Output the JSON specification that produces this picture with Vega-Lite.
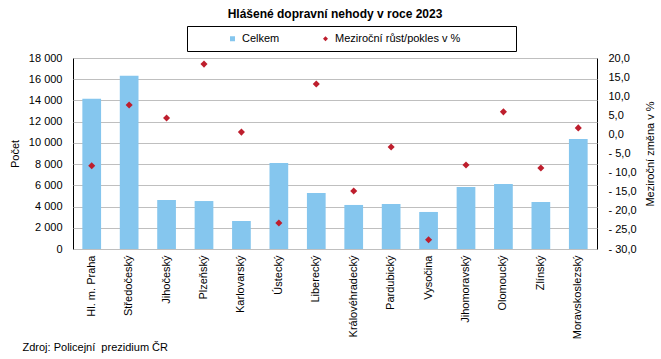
{
  "$schema": "https://vega.github.io/schema/vega-lite/v6.json",
  "width": 524,
  "height": 191,
  "autosize": "none",
  "padding": {"left": 73, "top": 58, "right": 64, "bottom": 110},
  "background": "white",
  "config": {
    "font": "Liberation Sans",
    "view": {"stroke": "black", "strokeWidth": 1},
    "axis": {
      "labelFont": "Liberation Sans",
      "labelFontSize": 11,
      "labelColor": "black",
      "titleFont": "Liberation Sans",
      "titleFontSize": 11,
      "titleFontWeight": "normal",
      "titleColor": "black"
    },
    "legend": {
      "labelFont": "Liberation Sans",
      "labelFontSize": 11,
      "labelColor": "black"
    }
  },
  "title": {
    "text": "Hlášené dopravní nehody v roce 2023",
    "font": "Liberation Sans",
    "fontSize": 12,
    "fontWeight": "bold",
    "color": "black",
    "anchor": "middle",
    "offset": 5
  },
  "data": {
    "values": [
      {"kraj": "Hl. m. Praha", "celkem": 14150, "zmena": -8.2},
      {"kraj": "Středočeský", "celkem": 16320, "zmena": 7.7},
      {"kraj": "Jihočeský", "celkem": 4620, "zmena": 4.3},
      {"kraj": "Plzeňský", "celkem": 4520, "zmena": 18.4},
      {"kraj": "Karlovarský", "celkem": 2640, "zmena": 0.6},
      {"kraj": "Ústecký", "celkem": 8100, "zmena": -23.2},
      {"kraj": "Liberecký", "celkem": 5280, "zmena": 13.2},
      {"kraj": "Královéhradecký", "celkem": 4150, "zmena": -14.8},
      {"kraj": "Pardubický", "celkem": 4240, "zmena": -3.3},
      {"kraj": "Vysočina", "celkem": 3490, "zmena": -27.6},
      {"kraj": "Jihomoravský", "celkem": 5840, "zmena": -8.0},
      {"kraj": "Olomoucký", "celkem": 6130, "zmena": 5.9},
      {"kraj": "Zlínský", "celkem": 4430, "zmena": -8.8},
      {"kraj": "Moravskoslezský", "celkem": 10370, "zmena": 1.7}
    ]
  },
  "encoding": {
    "x": {
      "field": "kraj",
      "type": "nominal",
      "sort": null,
      "scale": {"paddingInner": 0.5, "paddingOuter": 0.25},
      "axis": {
        "labelAngle": -90,
        "labelPadding": 6,
        "ticks": false,
        "domain": false,
        "title": "Zdroj: Policejní\u00a0 prezidium ČR",
        "titleAnchor": "start",
        "titleAlign": "left",
        "titleBaseline": "middle",
        "titleX": -51,
        "titleY": 98
      }
    }
  },
  "layer": [
    {
      "mark": {"type": "bar"},
      "encoding": {
        "y": {
          "field": "celkem",
          "type": "quantitative",
          "scale": {"domain": [0, 18000], "nice": false},
          "axis": {
            "values": [0, 2000, 4000, 6000, 8000, 10000, 12000, 14000, 16000, 18000],
            "labelExpr": "replace(format(datum.value, ','), ',', ' ')",
            "grid": true,
            "gridColor": "#BFBFBF",
            "gridWidth": 1,
            "ticks": false,
            "domain": false,
            "labelPadding": 11,
            "title": "Počet",
            "titlePadding": 8
          }
        },
        "color": {
          "datum": "Celkem",
          "type": "nominal",
          "scale": {
            "domain": ["Celkem", "Meziroční růst/pokles v %"],
            "range": ["#85C6EE", "#BE1E2D"]
          },
          "legend": {
            "title": "\u00a0",
            "titleOrient": "left",
            "titlePadding": 33,
            "titleFontSize": 11,
            "labelLimit": 400,
            "labelExpr": "datum.label == 'Celkem' ? datum.label : datum.label + '\u2800\u2800\u2800\u2800\u2800\u2800'",
            "orient": "none",
            "direction": "horizontal",
            "legendX": 114,
            "legendY": -32,
            "strokeColor": "black",
            "fillColor": "white",
            "padding": 7,
            "columnPadding": 40,
            "symbolSize": 25,
            "labelOffset": 4
          }
        }
      }
    },
    {
      "mark": {"type": "point", "shape": "diamond", "filled": true, "size": 50, "opacity": 1},
      "encoding": {
        "y": {
          "field": "zmena",
          "type": "quantitative",
          "scale": {"domain": [-30, 20], "nice": false},
          "axis": {
            "orient": "right",
            "values": [-30, -25, -20, -15, -10, -5, 0, 5, 10, 15, 20],
            "labelExpr": "datum.value < 0 ? '- ' + replace(format(-datum.value, '.1f'), '.', ',') : replace(format(datum.value, '.1f'), '.', ',')",
            "grid": false,
            "ticks": false,
            "domain": false,
            "labelPadding": 11,
            "title": "Meziroční změna v %",
            "titleAngle": 270,
            "titleBaseline": "top",
            "titlePadding": 8
          }
        },
        "color": {"datum": "Meziroční růst/pokles v %", "type": "nominal"},
        "shape": {
          "datum": "Meziroční růst/pokles v %",
          "type": "nominal",
          "scale": {
            "domain": ["Celkem", "Meziroční růst/pokles v %"],
            "range": ["square", "diamond"]
          },
          "legend": {
            "title": "\u00a0",
            "titleOrient": "left",
            "titlePadding": 33,
            "titleFontSize": 11,
            "labelLimit": 400,
            "labelExpr": "datum.label == 'Celkem' ? datum.label : datum.label + '\u2800\u2800\u2800\u2800\u2800\u2800'",
            "orient": "none",
            "direction": "horizontal",
            "legendX": 114,
            "legendY": -32,
            "strokeColor": "black",
            "fillColor": "white",
            "padding": 7,
            "columnPadding": 40,
            "symbolSize": 25,
            "labelOffset": 4
          }
        }
      }
    }
  ],
  "resolve": {"scale": {"y": "independent"}}
}
